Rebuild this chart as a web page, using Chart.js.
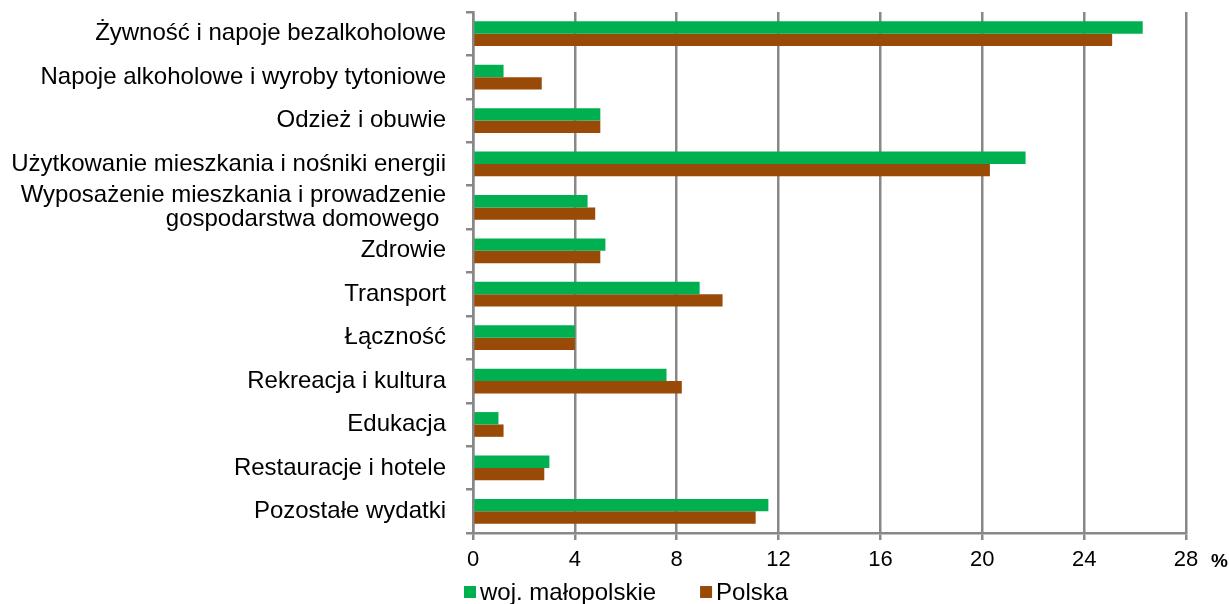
<!DOCTYPE html>
<html><head><meta charset="utf-8">
<script src="https://cdn.jsdelivr.net/npm/chart.js@4"></script>
<style>html,body{margin:0;padding:0;background:#fff}#wrap{width:1229px;height:604px}</style>
</head><body><div id="wrap"><canvas id="c" width="1229" height="604"></canvas></div>
<script>
const categories = [
  "Żywność i napoje bezalkoholowe",
  "Napoje alkoholowe i wyroby tytoniowe",
  "Odzież i obuwie",
  "Użytkowanie mieszkania i nośniki energii",
  ["Wyposażenie mieszkania i prowadzenie", "gospodarstwa domowego "],
  "Zdrowie",
  "Transport",
  "Łączność",
  "Rekreacja i kultura",
  "Edukacja",
  "Restauracje i hotele",
  "Pozostałe wydatki"
];
const malopolskie = [26.3, 1.2, 5.0, 21.7, 4.5, 5.2, 8.9, 4.0, 7.6, 1.0, 3.0, 11.6];
const polska      = [25.1, 2.7, 5.0, 20.3, 4.8, 5.0, 9.8, 4.0, 8.2, 1.2, 2.8, 11.1];
const seriesNames = ["woj. małopolskie", "Polska"];
const seriesColors = ["#00B050", "#9A4A07"];
const xTicks = [0, 4, 8, 12, 16, 20, 24, 28];
const unitLabel = "%";

const FONT = "'Liberation Sans', Arial, sans-serif";
const GRID = "#888888";

const extrasPlugin = {
  id: 'extras',
  afterDraw(chart) {
    const {ctx, chartArea, scales} = chart;
    ctx.save();
    ctx.font = "bold 19px " + FONT;
    ctx.fillStyle = "#000";
    ctx.textBaseline = "middle";
    ctx.textAlign = "left";
    ctx.fillText(unitLabel, scales.x.getPixelForValue(xTicks[xTicks.length-1]) + 25, chartArea.bottom + 29);
    ctx.font = "24px " + FONT;
    let x = chartArea.left - 9;
    const yMid = 592;
    chart.data.datasets.forEach((ds, i) => {
      ctx.fillStyle = ds.backgroundColor;
      ctx.fillRect(x, yMid - 6, 12, 12);
      ctx.fillStyle = "#000";
      ctx.fillText(ds.label, x + 16, yMid + 1);
      x += 16 + ctx.measureText(ds.label).width + 44;
    });
    ctx.restore();
  }
};

new Chart(document.getElementById('c'), {
  type: 'bar',
  data: {
    labels: categories,
    datasets: [
      {label: seriesNames[0], data: malopolskie, backgroundColor: seriesColors[0], categoryPercentage: 0.57, barPercentage: 1.0},
      {label: seriesNames[1], data: polska, backgroundColor: seriesColors[1], categoryPercentage: 0.57, barPercentage: 1.0}
    ]
  },
  options: {
    indexAxis: 'y',
    responsive: false,
    animation: false,
    layout: {padding: {top: 12, right: 43, left: 0, bottom: 0}},
    scales: {
      x: {
        min: 0, max: 28,
        afterBuildTicks(scale) { scale.ticks = xTicks.map(v => ({value: v})); },
        grid: {color: GRID, lineWidth: 2.5, tickLength: 7, drawTicks: true},
        border: {color: GRID, width: 2.5},
        ticks: {font: {family: FONT, size: 22}, color: '#000', padding: 7},
        afterFit(scale) { scale.height = 71; scale.paddingLeft = 0; scale.paddingRight = 0; }
      },
      y: {
        grid: {drawOnChartArea: false, color: GRID, lineWidth: 2.5, tickLength: 7, offset: true},
        border: {color: GRID, width: 2.5},
        ticks: {font: {family: FONT, size: 24, lineHeight: 0.97}, color: '#000', padding: 20, autoSkip: false},
        afterFit(scale) { scale.width = 473; scale.paddingTop = 0; scale.paddingBottom = 0; }
      }
    },
    plugins: {
      legend: {display: false},
      tooltip: {enabled: false}
    }
  },
  plugins: [extrasPlugin]
});
</script>
</body></html>
